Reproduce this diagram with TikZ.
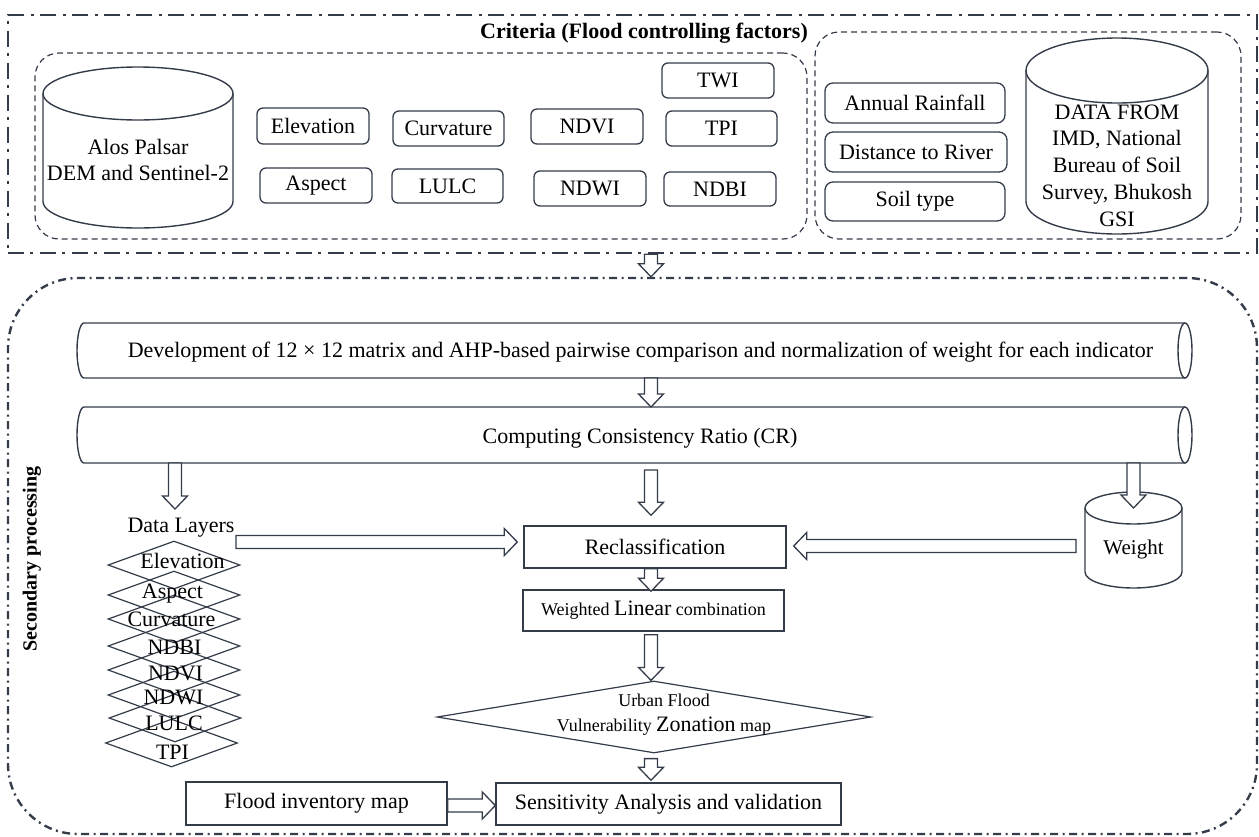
\documentclass[tikz,border=0pt]{standalone}
\usepackage{fontspec}
\setmainfont{Liberation Serif}
\usetikzlibrary{calc,shapes.geometric}
\definecolor{lc}{RGB}{52,60,74}
\newcommand{\fsb}{\fontsize{22}{26}\selectfont}
\newcommand{\fss}{\fontsize{18}{22}\selectfont}
\tikzset{
 lbl/.style={font=\fsb, text=black, inner sep=0pt},
 sbox/.style={draw=lc, line width=1.3pt, rounded corners=6pt, font=\fsb, inner sep=0pt},
 pbox/.style={draw=lc, line width=1.4pt, font=\fsb, inner sep=0pt},
 grp/.style={draw=lc, line width=1.2pt, dash pattern=on 6pt off 4pt, rounded corners=24pt, inner sep=0pt},
 outerA/.style={draw=lc, line width=2.6pt, dash pattern=on 16pt off 6pt on 3pt off 7pt, inner sep=0pt},
 outerB/.style={draw=lc, line width=2.4pt, dash pattern=on 8pt off 4.5pt on 2pt off 4.5pt, rounded corners=70pt, inner sep=0pt},
 dia/.style={diamond, draw=lc, line width=1.2pt, inner sep=0pt, minimum width=132pt, minimum height=48pt},
 blk/.style={draw=lc, line width=1.3pt, fill=white},
 cyl/.style={draw=lc, line width=1.4pt},
 anchorbox/.style={inner sep=0pt, outer sep=0pt, draw=none},
}
\newcommand{\vblk}[2]{\draw[blk] let \p1=#1, \p2=#2 in (\x1-6.5pt,\y1) -- (\x1-6.5pt,\y2+13pt) -- (\x1-12.5pt,\y2+13pt) -- (\x1,\y2) -- (\x1+12.5pt,\y2+13pt) -- (\x1+6.5pt,\y2+13pt) -- (\x1+6.5pt,\y1) -- cycle;}
\newcommand{\rblk}[2]{\draw[blk] let \p1=#1, \p2=#2 in (\x1,\y1+6.5pt) -- (\x2-13pt,\y1+6.5pt) -- (\x2-13pt,\y1+13.5pt) -- (\x2,\y1) -- (\x2-13pt,\y1-13.5pt) -- (\x2-13pt,\y1-6.5pt) -- (\x1,\y1-6.5pt) -- cycle;}
\newcommand{\lblk}[2]{\draw[blk] let \p1=#1, \p2=#2 in (\x1,\y1+6.5pt) -- (\x2+13pt,\y1+6.5pt) -- (\x2+13pt,\y1+13.5pt) -- (\x2,\y1) -- (\x2+13pt,\y1-13.5pt) -- (\x2+13pt,\y1-6.5pt) -- (\x1,\y1-6.5pt) -- cycle;}
\begin{document}
\begin{tikzpicture}[x=1pt,y=-1pt]
\useasboundingbox (0,0) rectangle (1259,836);
% ---------- frames
\node[outerA, minimum width=1249pt, minimum height=238pt] (top) at (632.5,134) {};
\node[outerB, minimum width=1249pt, minimum height=556pt] (bot) at (632.5,556) {};
\node[lbl, font=\bfseries\fsb] (title) at (644,33) {Criteria (Flood controlling factors)};
\node[grp, minimum width=772pt, minimum height=186pt] (lg) at (421,146) {};
\node[grp, minimum width=426pt, minimum height=207pt] (rg) at (1028,135.5) {};
% ---------- Alos cylinder
\draw[cyl] (43,93.5) -- (43,201.5) arc[start angle=180,end angle=360,x radius=95pt,y radius=26.5pt] -- (233,93.5);
\draw[cyl] (138,93.5) ellipse[x radius=95pt, y radius=26.5pt];
\node[lbl, align=center] (alos) at (138,160) {Alos Palsar\\DEM and Sentinel-2};
% ---------- small boxes
\node[sbox, minimum width=112pt, minimum height=36pt] (elev) at (313,126) {Elevation};
\node[sbox, minimum width=111pt, minimum height=35pt] (curv) at (448.5,128.5) {Curvature};
\node[sbox, minimum width=112pt, minimum height=35pt] (ndvi) at (587,126.5) {NDVI};
\node[sbox, minimum width=112pt, minimum height=35pt] (asp) at (316,185.5) {Aspect};
\node[sbox, minimum width=111pt, minimum height=34pt] (lulc) at (447.5,186) {LULC};
\node[sbox, minimum width=112pt, minimum height=35pt] (ndwi) at (590,188.5) {NDWI};
\node[sbox, minimum width=112pt, minimum height=35pt] (twi) at (718,80.5) {TWI};
\node[sbox, minimum width=111pt, minimum height=35pt] (tpi) at (721.5,128.5) {TPI};
\node[sbox, minimum width=112pt, minimum height=34pt] (ndbi) at (720,189) {NDBI};
\node[sbox, rounded corners=8pt, minimum width=180pt, minimum height=40pt] (rain) at (915,103) {Annual Rainfall};
\node[sbox, rounded corners=8pt, minimum width=182pt, minimum height=40pt] (dist) at (916,152) {Distance to River};
\node[sbox, rounded corners=8pt, minimum width=180pt, minimum height=39pt] (soil) at (915,201.5) {Soil type};
% ---------- data cylinder
\draw[cyl] (1026,70.5) -- (1026,201.5) arc[start angle=180,end angle=360,x radius=91pt,y radius=32.5pt] -- (1208,70.5);
\draw[cyl] (1117,70.5) ellipse[x radius=91pt,y radius=32.5pt];
\node[lbl, align=center, font=\fontsize{22}{26.75}\selectfont] (dataf) at (1117,165.5) {DATA FROM\\IMD, National\\Bureau of Soil\\Survey, Bhukosh\\GSI};
% ---------- horizontal cylinders
\node[anchorbox, minimum width=1115pt, minimum height=55pt] (dev) at (634.5,350.5) {};
\draw[cyl] (1185,323) -- (84,323) arc[start angle=90,end angle=270,x radius=7pt,y radius=27.5pt] -- (1185,378);
\draw[cyl] (1185,350.5) ellipse[x radius=7pt,y radius=27.5pt];
\node[lbl] (devt) at (640.5,352) {Development of 12 × 12 matrix and AHP-based pairwise comparison and normalization of weight for each indicator};
\node[anchorbox, minimum width=1115pt, minimum height=56pt] (comp) at (634.5,435) {};
\draw[cyl] (1185,407) -- (84,407) arc[start angle=90,end angle=270,x radius=7pt,y radius=28pt] -- (1185,463);
\draw[cyl] (1185,435) ellipse[x radius=7pt,y radius=28pt];
\node[lbl] (compt) at (640,438) {Computing Consistency Ratio (CR)};
% ---------- data layers
\node[lbl] (dl) at (181,528) {Data Layers};
\node[dia] (d1) at (174,565) {};
\node[dia] (d2) at (174,595) {};
\node[dia] (d3) at (174,619) {};
\node[dia] (d4) at (174,646) {};
\node[dia] (d5) at (174,670) {};
\node[dia] (d6) at (174,695) {};
\node[dia] (d7) at (175,718) {};
\node[dia] (d8) at (171.5,743) {};
\node[lbl] (t1) at (182.5,561) {Elevation};
\node[lbl] (t2) at (172.5,594) {Aspect};
\node[lbl] (t3) at (171.5,619) {Curvature};
\node[lbl] (t4) at (174.5,647) {NDBI};
\node[lbl] (t5) at (175.5,673) {NDVI};
\node[lbl] (t6) at (173.5,697) {NDWI};
\node[lbl] (t7) at (174,723) {LULC};
\node[lbl] (t8) at (172.5,752) {TPI};
% ---------- main column
\node[pbox, minimum width=262pt, minimum height=42pt] (reclass) at (655,547) {Reclassification};
\node[pbox, minimum width=261pt, minimum height=41pt] (wlc) at (653.5,610.5) {\fss Weighted {\fsb Linear} combination};
\node[dia, minimum width=434pt, minimum height=72pt] (ud) at (654,717) {};
\node[lbl, align=center, font=\fontsize{18}{25}\selectfont] (udt) at (664,715) {Urban Flood\\Vulnerability {\fsb Zonation} map};
\node[pbox, minimum width=261pt, minimum height=43pt] (fim) at (316.5,803.5) {Flood inventory map};
\node[pbox, minimum width=345pt, minimum height=42pt] (sens) at (668.5,804) {Sensitivity Analysis and validation};
% ---------- weight cylinder
\node[anchorbox, minimum width=97pt, minimum height=96pt] (wcyl) at (1133.5,540) {};
\draw[cyl] (1085,508) -- (1085,572) arc[start angle=180,end angle=360,x radius=48.5pt,y radius=16pt] -- (1182,508);
\draw[cyl] (1133.5,508) ellipse[x radius=48.5pt,y radius=16pt];
\node[lbl, font=\fontsize{21}{25}\selectfont] (wt) at (1133.5,549) {Weight};
% ---------- side label
\node[lbl, rotate=90, font=\bfseries\fontsize{20}{24}\selectfont] (sec) at (32,559) {Secondary processing};
% ---------- arrows
\coordinate (col) at (651,0);
\coordinate (dlin) at (175,509);
\coordinate (dlout) at (236,542);
\vblk{(top.south -| col)}{(bot.north -| col)}
\vblk{(dev.south -| col)}{(comp.north -| col)}
\vblk{(comp.south -| dlin)}{(dlin)}
\vblk{($(comp.south -| col)+(0,7)$)}{($(reclass.north -| col)+(0,-10)$)}
\vblk{(comp.south -| wcyl)}{($(wcyl.north)+(0,16)$)}
\rblk{(dlout)}{($(reclass.west)+(-6,0)$)}
\lblk{($(wcyl.west)+(-9,6)$)}{($(reclass.east)+(7,0)$)}
\vblk{(reclass.south -| col)}{($(wlc.north -| col)+(0,2)$)}
\vblk{($(wlc.south -| col)+(0,3)$)}{(ud.north -| col)}
\vblk{($(ud.south -| col)+(0,5)$)}{($(sens.north -| col)+(0,-2)$)}
\rblk{($(fim.east)+(0,2)$)}{(sens.west)}
\end{tikzpicture}
\end{document}
